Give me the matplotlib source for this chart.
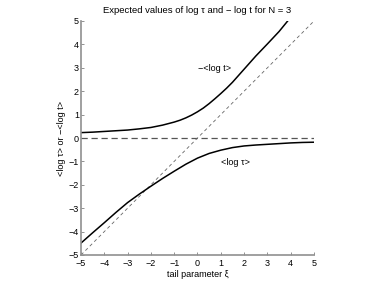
import matplotlib

matplotlib.use('Agg')

from matplotlib import pyplot as plt
import numpy as np

plt.rcParams['font.family'] = ['Liberation Sans', 'DejaVu Sans']

# values
xi_t = [-5, -4.5, -4, -3.5, -3, -2.5, -2, -1.5, -1, -0.75, -0.5, -0.25, 0,
        0.25, 0.5, 0.75, 1, 1.25, 1.5, 1.75, 2, 2.5, 3, 3.5, 3.87]
neg_log_t = [0.23, 0.25, 0.28, 0.31, 0.34, 0.39, 0.45, 0.55, 0.68, 0.76, 0.86,
             0.98, 1.12, 1.28, 1.47, 1.68, 1.9, 2.13, 2.38, 2.66, 2.94, 3.5,
             4.02, 4.55, 5.0]

xi_tau = [-5, -4.5, -4, -3.5, -3, -2.5, -2, -1.5, -1, -0.5, 0, 0.5, 1, 1.5, 2,
          2.5, 3, 3.5, 4, 4.5, 5]
log_tau = [-4.49, -4.05, -3.62, -3.18, -2.76, -2.4, -2.06, -1.73, -1.42, -1.12,
           -0.86, -0.66, -0.52, -0.41, -0.34, -0.3, -0.27, -0.24, -0.21, -0.19,
           -0.18]

ticks = np.arange(-5, 6)


def main():
  fig = plt.figure(figsize=(3.82, 2.87), dpi=100)
  ax = fig.add_axes([81 / 382, 32 / 287, 233 / 382, 234 / 287])

  ax.plot([-5, 5], [0, 0], '--', color='#555555', lw=0.9, dashes=(5, 3))
  ax.plot([-5, 5], [-5, 5], '--', color='#666666', lw=0.6, dashes=(4, 3.5))
  ax.plot(xi_t, neg_log_t, 'k-', lw=1.1)
  ax.plot(xi_tau, log_tau, 'k-', lw=1.1)

  ax.text(0.75, 2.95, '\u2212<log t>', fontsize=6.5, ha='center', va='center')
  ax.text(1.65, -1.03, '<log \u03c4>', fontsize=6.5, ha='center', va='center')

  ax.set_xlim(-5, 5)
  ax.set_ylim(-5, 5)
  ax.set_xticks(ticks)
  ax.set_yticks(ticks)
  ax.set_xticklabels([str(t).replace('-', '\u2212') for t in ticks])
  ax.set_yticklabels([str(t).replace('-', '\u2212') for t in ticks])
  ax.tick_params(direction='in', length=2.5, width=0.6, labelsize=6.5,
                 color='#808080', pad=1.5)
  ax.tick_params(axis='x', pad=2.8)
  for s in ['top', 'right']:
    ax.spines[s].set_visible(False)
  for s in ['left', 'bottom']:
    ax.spines[s].set_color('#909090')
    ax.spines[s].set_linewidth(1.2)

  ax.set_xlabel('tail parameter \u03be', fontsize=6.5, labelpad=1.5)
  ax.set_ylabel('<log \u03c4> or \u2212<log t>', fontsize=6.5, labelpad=2)
  ax.set_title('Expected values of log \u03c4 and \u2212 log t for N = 3',
               fontsize=6.8, pad=6)

  fig.savefig('out.png', dpi=100)


if __name__ == '__main__':
  main()
